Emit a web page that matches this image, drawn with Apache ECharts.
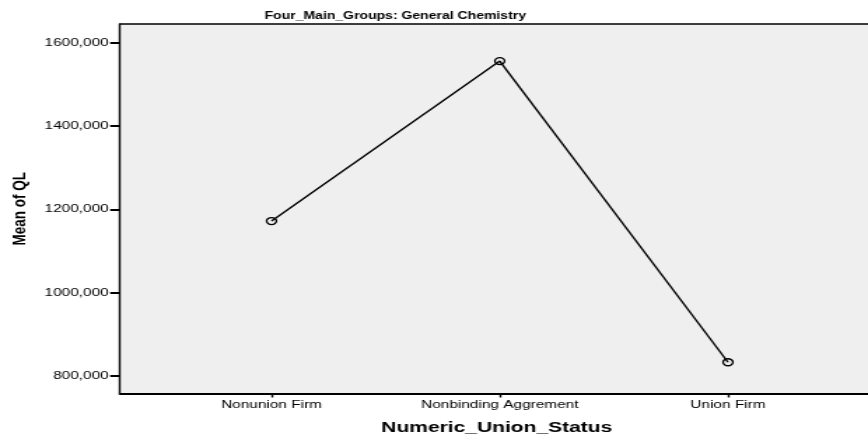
<!DOCTYPE html>
<html>
<head>
<meta charset="utf-8">
<script src="https://cdn.jsdelivr.net/npm/echarts@6/dist/echarts.min.js"></script>
<style>
  html, body { margin: 0; padding: 0; background: #fff; overflow: hidden; }
  /* the chart is laid out on a narrower canvas and widened horizontally */
  #wrap { width: 868px; height: 441px; overflow: hidden; }
  #chart { width: 620px; height: 441px; transform: scaleX(1.4); transform-origin: 0 0; }
</style>
</head>
<body>
<div id="wrap"><div id="chart"></div></div>
<script>
const categories = ['Nonunion Firm', 'Nonbinding Aggrement', 'Union Firm'];
const meanQL = [1172000, 1556000, 833000];
const yTicks = [800000, 1000000, 1200000, 1400000, 1600000];

const FONT = 'Liberation Sans, Arial, sans-serif';
const X_MIN = -0.664, X_MAX = 2.638;
const chart = echarts.init(document.getElementById('chart'), null, { renderer: 'canvas' });

chart.setOption({
  animation: false,
  backgroundColor: '#ffffff',
  title: {
    text: 'Four_Main_Groups: General Chemistry',
    left: 184,
    top: 6,
    textStyle: { fontFamily: FONT, fontSize: 10, fontWeight: 'bold', color: '#000' }
  },
  grid: {
    left: 85.7,
    right: -4,
    top: 24,
    bottom: 47.5,
    outerBoundsMode: 'none',
    containLabel: false,
    show: true,
    backgroundColor: '#efefef',
    borderWidth: 0
  },
  xAxis: [{
    type: 'value',
    min: X_MIN,
    max: X_MAX,
    name: 'Numeric_Union_Status',
    nameLocation: 'middle',
    nameGap: 27,
    nameTextStyle: { fontFamily: FONT, fontSize: 15, fontWeight: 'bold', color: '#000' },
    splitLine: { show: false },
    axisLine: { show: true, onZero: false, lineStyle: { color: '#000', width: 2 } },
    axisTick: {
      show: true, length: 4, customValues: categories.map((c, i) => i),
      lineStyle: { color: '#000', width: 1.4 }
    },
    axisLabel: {
      customValues: categories.map((c, i) => i),
      formatter: v => categories[Math.round(v)],
      margin: 6,
      fontFamily: FONT, fontSize: 11, color: '#000'
    }
  }, {
    // top edge of the plot frame
    type: 'value',
    position: 'top',
    min: X_MIN,
    max: X_MAX,
    splitLine: { show: false },
    axisLine: { show: true, onZero: false, lineStyle: { color: '#000', width: 1.5 } },
    axisTick: { show: false },
    axisLabel: { show: false }
  }],
  yAxis: {
    type: 'value',
    min: 758000,
    max: 1645000,
    name: 'Mean of QL',
    nameLocation: 'middle',
    nameGap: 63,
    nameTextStyle: { fontFamily: FONT, fontSize: 13.5, fontWeight: 'bold', color: '#000' },
    splitLine: { show: false },
    axisLine: { show: true, onZero: false, lineStyle: { color: '#000', width: 1.4 } },
    axisTick: {
      show: true, length: 7, customValues: yTicks,
      lineStyle: { color: '#000', width: 2 }
    },
    axisLabel: {
      customValues: yTicks,
      formatter: v => Math.round(v / 1000) + ',000',
      margin: 8,
      fontFamily: FONT, fontSize: 11, color: '#000'
    }
  },
  series: [{
    type: 'line',
    xAxisIndex: 0,
    data: meanQL.map((v, i) => [i, v]),
    symbol: 'circle',
    symbolSize: 7,
    showSymbol: true,
    lineStyle: { color: '#000', width: 1.4 },
    itemStyle: { color: 'rgba(0,0,0,0)', borderColor: '#000', borderWidth: 1.3 },
    emphasis: { disabled: true }
  }]
});
</script>
</body>
</html>
